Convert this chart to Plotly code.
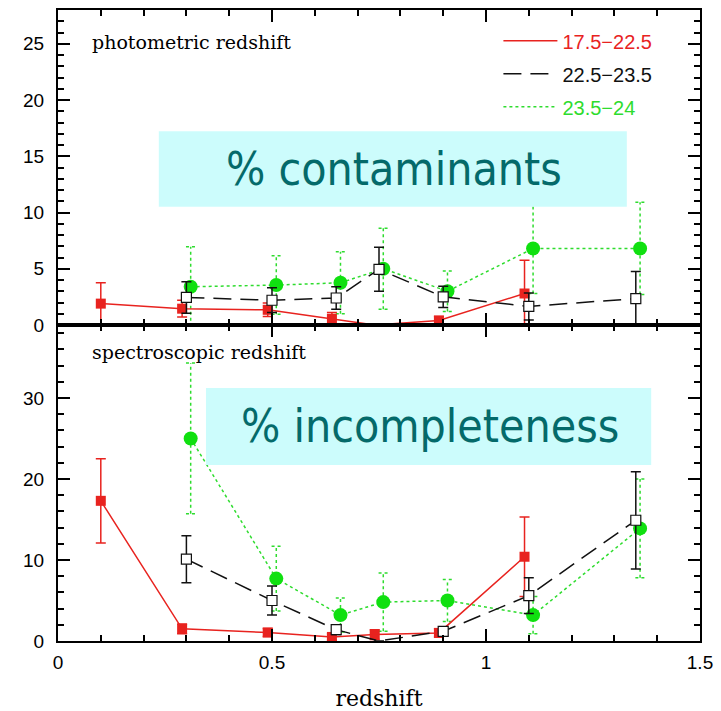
import plotly.graph_objects as go
from plotly.subplots import make_subplots

# ---------------- data ----------------
series_names = ["17.5−22.5", "22.5−23.5", "23.5−24"]

x_red = [0.10, 0.29, 0.49, 0.64, 0.74, 0.89, 1.09]
x_blk = [0.30, 0.50, 0.65, 0.75, 0.90, 1.10, 1.35]
x_grn = [0.31, 0.51, 0.66, 0.76, 0.91, 1.11, 1.36]

# photometric redshift: % contaminants
phot_red = [1.9, 1.45, 1.35, 0.55, 0.0, 0.4, 2.8]
phot_red_err = [1.85, 0.75, 0.6, 0.55, 0.0, 0.35, 2.95]
phot_blk = [2.45, 2.2, 2.4, 4.95, 2.5, 1.65, 2.35]
phot_blk_err = [1.4, 1.1, 1.0, 1.95, 0.95, 1.2, 2.4]
phot_grn = [3.4, 3.55, 3.75, 5.0, 3.0, 6.8, 6.8]
phot_grn_err = [3.55, 2.6, 2.75, 3.6, 1.8, 4.0, 4.1]

# spectroscopic redshift: % incompleteness
spec_red = [17.3, 1.5, 1.05, 0.5, 0.8, 1.0, 10.4]
spec_red_err = [5.2, 0.6, 0.5, 0.4, 0.6, 0.5, 4.9]
spec_blk = [10.1, 5.0, 1.4, 0.0, 1.2, 5.6, 14.9]
spec_blk_err = [2.9, 1.8, 0.6, 0.0, 0.5, 2.2, 6.0]
spec_grn = [25.0, 7.7, 3.2, 4.8, 5.0, 3.2, 13.9]
spec_grn_err = [9.3, 4.0, 2.1, 3.6, 2.6, 2.3, 6.1]

x_ticks = [0, 0.5, 1, 1.5]
top_ticks = [0, 5, 10, 15, 20, 25]
bot_ticks = [0, 10, 20, 30]

# ---------------- style ----------------
RED = "#e8231f"
BLK = "#111111"
GRN = "#2edc2e"
GRN_M = "#10e010"
TEAL = "#046a6a"
BOX = "#ccfcfc"
SERIF = "DejaVu Serif, Liberation Serif, serif"
SANS = "Liberation Sans, Arial, sans-serif"
BIG = "DejaVu Sans Condensed, Open Sans, sans-serif"

fig = make_subplots(rows=2, cols=1, shared_xaxes=True, vertical_spacing=0)


def sizes(vals, s):
    return [0 if v == 0 else s for v in vals]


def dotted_err(xs, ys, es, cap=0.011):
    ex, ey = [], []
    for xi, yi, ei in zip(xs, ys, es):
        if ei == 0:
            continue
        ex += [xi, xi, None, xi - cap, xi + cap, None, xi - cap, xi + cap, None]
        ey += [yi - ei, yi + ei, None, yi - ei, yi - ei, None, yi + ei, yi + ei, None]
    return ex, ey


for row, (r, re_, b, be, g, ge) in enumerate(
    [(phot_red, phot_red_err, phot_blk, phot_blk_err, phot_grn, phot_grn_err),
     (spec_red, spec_red_err, spec_blk, spec_blk_err, spec_grn, spec_grn_err)], start=1):
    # green dotted error bars
    ex, ey = dotted_err(x_grn, g, ge)
    fig.add_trace(go.Scatter(x=ex, y=ey, mode="lines", showlegend=False,
                             line=dict(color=GRN, width=1.5, dash="dot"),
                             hoverinfo="skip"), row=row, col=1)
    fig.add_trace(go.Scatter(x=x_grn, y=g, mode="lines+markers", showlegend=False,
                             line=dict(color=GRN, width=1.5, dash="dot"),
                             marker=dict(color=GRN_M, size=sizes(g, 14), symbol="circle",
                                         opacity=1, line=dict(width=0))),
                  row=row, col=1)
    fig.add_trace(go.Scatter(x=x_red, y=r, mode="lines+markers", showlegend=False,
                             line=dict(color=RED, width=1.5),
                             marker=dict(color=RED, size=sizes(r, 10), symbol="square",
                                         opacity=1, line=dict(width=0)),
                             error_y=dict(type="data", array=re_, color=RED,
                                          thickness=1.5, width=5)),
                  row=row, col=1)
    fig.add_trace(go.Scatter(x=x_blk, y=b, mode="lines+markers", showlegend=False,
                             line=dict(color=BLK, width=1.5, dash="18px,9px"),
                             marker=dict(color="white", size=sizes(b, 10), symbol="square",
                                         opacity=1, line=dict(color=BLK, width=1.2)),
                             error_y=dict(type="data", array=be, color=BLK,
                                          thickness=1.5, width=5)),
                  row=row, col=1)

# legend-only traces
for name, col, dash in zip(series_names, [RED, BLK, GRN], ["solid", "18px,9px", "dot"]):
    fig.add_trace(go.Scatter(x=[None], y=[None], mode="lines", legendgroup=name,
                             name=f"<span style='color:{col}'>{name}</span>",
                             line=dict(color=col, width=1.5, dash=dash)), row=1, col=1)

axis_common = dict(showline=True, linewidth=2, linecolor="black", mirror="allticks",
                   ticks="inside", tickcolor="black", tickwidth=1.5, showgrid=False,
                   zeroline=False, automargin=False)

fig.update_xaxes(range=[0, 1.5], tickvals=x_ticks, ticklen=12,
                 minor=dict(dtick=0.1, ticklen=6, ticks="inside", tickcolor="black",
                            tickwidth=1.5, showgrid=False),
                 **axis_common)
fig.update_xaxes(showticklabels=False, row=1, col=1)
fig.update_xaxes(showticklabels=True, tickfont=dict(family=SANS, size=19, color="black"),
                 ticklabelstandoff=3,
                 title=dict(text="redshift", font=dict(family=SERIF, size=22, color="black"),
                            standoff=20),
                 row=2, col=1)

fig.update_yaxes(range=[0, 28], tickvals=top_ticks, ticklen=12,
                 minor=dict(dtick=1, ticklen=6, ticks="inside", tickcolor="black",
                            tickwidth=1.5, showgrid=False),
                 tickfont=dict(family=SANS, size=19, color="black"), ticklabelstandoff=8,
                 domain=[0.5008, 1], row=1, col=1, **axis_common)
fig.update_yaxes(range=[0, 39], tickvals=bot_ticks, ticklen=12,
                 minor=dict(dtick=2, ticklen=6, ticks="inside", tickcolor="black",
                            tickwidth=1.5, showgrid=False),
                 tickfont=dict(family=SANS, size=19, color="black"), ticklabelstandoff=8,
                 domain=[0, 0.5008], row=2, col=1, **axis_common)

# highlight boxes and labels
fig.add_shape(type="rect", xref="paper", yref="paper", x0=0.157, x1=0.886, y0=0.688, y1=0.808,
              fillcolor=BOX, line=dict(width=0), layer="above")
fig.add_shape(type="rect", xref="paper", yref="paper", x0=0.2305, x1=0.924, y0=0.279, y1=0.401,
              fillcolor=BOX, line=dict(width=0), layer="above")
fig.add_annotation(xref="paper", yref="paper", x=0.5226, y=0.748, xanchor="center",
                   yanchor="middle", text="% contaminants",
                   showarrow=False, font=dict(family=BIG, size=46, color=TEAL))
fig.add_annotation(xref="paper", yref="paper", x=0.5787, y=0.34, xanchor="center",
                   yanchor="middle", text="% incompleteness",
                   showarrow=False, font=dict(family=BIG, size=46, color=TEAL))
fig.add_annotation(xref="paper", yref="paper", x=(90 - 58) / 642, y=(641 - 42) / 631,
                   xanchor="left", yanchor="middle", text="photometric redshift",
                   showarrow=False, font=dict(family=SERIF, size=19, color="black"))
fig.add_annotation(xref="paper", yref="paper", x=(90 - 58) / 642, y=(641 - 352) / 631,
                   xanchor="left", yanchor="middle", text="spectroscopic redshift",
                   showarrow=False, font=dict(family=SERIF, size=19, color="black"))

fig.update_layout(
    width=721, height=711,
    margin=dict(l=58, r=21, t=10, b=70, autoexpand=False),
    paper_bgcolor="white", plot_bgcolor="white",
    showlegend=True,
    legend=dict(x=0.686, y=0.982, xanchor="left", yanchor="top", bgcolor="rgba(255,255,255,0)",
                font=dict(family=SANS, size=20), tracegroupgap=4, itemwidth=54),
)

fig.write_html("out.html")
